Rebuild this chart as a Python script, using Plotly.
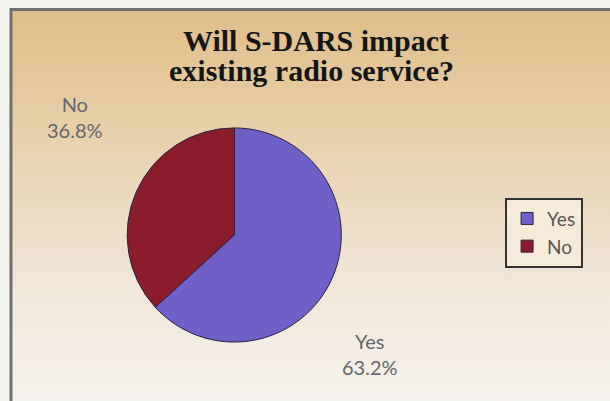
import base64
import plotly.graph_objects as go

# Data
labels = ["Yes", "No"]
values = [63.2, 36.8]
colors = ["#6e60c6", "#8a1c2c"]
title_line1 = "Will S-DARS impact"
title_line2 = "existing radio service?"

W, H = 610, 401

# background gradient image (style only)
svg = f'''<svg xmlns="http://www.w3.org/2000/svg" width="{W}" height="{H}" viewBox="0 0 {W} {H}" preserveAspectRatio="none">
<defs><linearGradient id="g" x1="0" y1="0" x2="0" y2="1">
<stop offset="0" stop-color="#dfbd88"/>
<stop offset="0.35" stop-color="#e9d2ae"/>
<stop offset="0.7" stop-color="#f1e6d8"/>
<stop offset="1" stop-color="#f4f2ec"/>
</linearGradient></defs>
<rect x="0" y="0" width="{W}" height="{H}" fill="url(#g)"/>
</svg>'''
src = "data:image/svg+xml;base64," + base64.b64encode(svg.encode()).decode()

pie = go.Pie(
    labels=labels,
    values=values,
    marker=dict(colors=colors, line=dict(color="#2a2440", width=1)),
    sort=False,
    direction="clockwise",
    rotation=0,
    textinfo="none",
    domain=dict(x=[0.184, 0.584], y=[0.147, 0.681]),
)
fig = go.Figure(pie)

title_font = dict(family="Liberation Serif, serif", size=30, color="#151515", weight="bold")

# slice labels as annotations built from the data
total = sum(values)
label_pos = {"No": (0.123, 0.708), "Yes": (0.607, 0.117)}
annotations = []
for lab, val in zip(labels, values):
    x, y = label_pos[lab]
    annotations.append(dict(
        text=f"{lab}<br>{val / total * 100:.1f}%", x=x, y=y, xref="paper", yref="paper",
        xanchor="center", yanchor="middle",
        showarrow=False, align="center",
        font=dict(family="Lato, sans-serif", size=20, color="#666666")))
# second title line
annotations.append(dict(text=title_line2, x=311 / W, y=1 - 71 / H, xref="paper", yref="paper",
                        xanchor="center", yanchor="middle", showarrow=False,
                        font=title_font))

fig.update_layout(
    width=W, height=H,
    margin=dict(l=0, r=0, t=0, b=0),
    paper_bgcolor="#f3f3ee",
    plot_bgcolor="rgba(0,0,0,0)",
    images=[dict(source=src, xref="paper", yref="paper", x=11 / W, y=1 - 9 / H,
                 sizex=1 - 11 / W, sizey=1 - 9 / H, xanchor="left", yanchor="top",
                 sizing="stretch", layer="below")],
    shapes=[
        dict(type="line", xref="paper", yref="paper", x0=11 / W, x1=1.0,
             y0=1 - 9.5 / H, y1=1 - 9.5 / H, line=dict(color="#707070", width=3)),
        dict(type="line", xref="paper", yref="paper", x0=11 / W, x1=11 / W,
             y0=0, y1=1 - 8 / H, line=dict(color="#707070", width=3)),
    ],
    annotations=annotations,
    title=dict(text=title_line1, x=316 / W, xanchor="center", y=1 - 40 / H, yanchor="middle",
               font=title_font),
    legend=dict(x=0.828, y=0.42, xanchor="left", yanchor="middle",
                bgcolor="rgba(246,236,218,0.9)", bordercolor="#333333", borderwidth=2,
                font=dict(family="Lato, sans-serif", size=19, color="#555555"),
                itemwidth=30),
    showlegend=True,
)

fig.write_html("out.html", config={"displayModeBar": False},
               post_script="document.body.style.margin='0';")
